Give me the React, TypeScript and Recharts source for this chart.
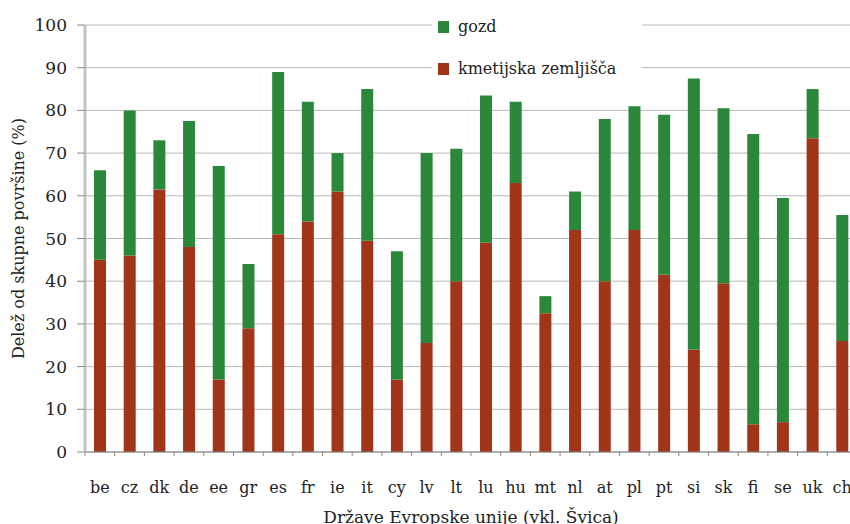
import { Bar, BarChart, CartesianGrid, Legend, XAxis, YAxis } from "recharts"

const countries = ["be", "cz", "dk", "de", "ee", "gr", "es", "fr", "ie", "it", "cy", "lv", "lt", "lu", "hu", "mt", "nl", "at", "pl", "pt", "si", "sk", "fi", "se", "uk", "ch"]
// share of total area (%)
const farmland = [45, 46, 61.5, 48, 17, 29, 51, 54, 61, 49.5, 17, 25.5, 40, 49, 63, 32.5, 52, 40, 52, 41.5, 24, 39.5, 6.5, 7, 73.5, 26]
const landTotal = [66, 80, 73, 77.5, 67, 44, 89, 82, 70, 85, 47, 70, 71, 83.5, 82, 36.5, 61, 78, 81, 79, 87.5, 80.5, 74.5, 59.5, 85, 55.5]
const yTicks = [0, 10, 20, 30, 40, 50, 60, 70, 80, 90, 100]

const data = countries.map((name, i) => ({
  name,
  kmetijska: farmland[i],
  gozd: +(landTotal[i] - farmland[i]).toFixed(1),
}))

const GREEN = "#2b883a"
const RED = "#a03519"
const FONT = "DejaVu Serif"
const INK = "#222"

const W = 860
const H = 524
const LEFT = 85
const RIGHT = 3
const BAND = (W - LEFT - RIGHT) / countries.length

function CountryTick({ x, y, payload }: any) {
  const edge = x - BAND / 2
  return (
    <g>
      <line x1={edge} x2={edge} y1={y} y2={y + 4} stroke="#888" />
      <text x={x} y={y + 41} textAnchor="middle" fontFamily={FONT} fontSize={16} fill={INK}>
        {payload.value}
      </text>
    </g>
  )
}

function LegendBox() {
  const rows = [
    { label: "gozd", color: GREEN },
    { label: "kmetijska zemljišča", color: RED },
  ]
  return (
    <div style={{ position: "relative", background: "#fff", height: 80, fontFamily: FONT, fontSize: 16, color: INK }}>
      {rows.map((r, i) => (
        <div key={r.label} style={{ position: "absolute", left: 6, top: 17 + i * 42, display: "flex", alignItems: "center" }}>
          <span style={{ width: 11, height: 12, background: r.color, marginRight: 9 }} />
          <span style={{ lineHeight: "20px" }}>{r.label}</span>
        </div>
      ))}
    </div>
  )
}

export default function App() {
  return (
    <div style={{ position: "absolute", left: 0, top: 0, width: 850, height: 524, overflow: "hidden", background: "#fff" }}>
      <BarChart width={W} height={H} data={data} margin={{ top: 25, right: RIGHT, left: 0, bottom: 0 }} barSize={12}>
        <CartesianGrid vertical={false} stroke="#b8b8b8" />
        <XAxis
          dataKey="name"
          height={72}
          stroke="#808080"
          tickLine={false}
          tickSize={0}
          tickMargin={0}
          interval={0}
          tick={<CountryTick />}
          label={{ value: "Države Evropske unije (vkl. Švica)", position: "insideBottom", offset: 1, style: { fontFamily: FONT, fontSize: 17, fill: INK } }}
        />
        <YAxis
          width={LEFT}
          domain={[0, 100]}
          ticks={yTicks}
          interval={0}
          axisLine={{ stroke: "#c4c4c4", strokeWidth: 3 }}
          tickLine={{ stroke: "#888" }}
          tickSize={8}
          tickMargin={10}
          tick={{ fontFamily: FONT, fontSize: 17, fill: INK }}
          label={{
            value: "Delež od skupne površine (%)",
            angle: -90,
            position: "insideLeft",
            offset: 18,
            style: { textAnchor: "middle", fontFamily: FONT, fontSize: 16, fill: INK },
          }}
        />
        <Legend
          layout="horizontal"
          verticalAlign="middle"
          align="center"
          content={<LegendBox />}
          wrapperStyle={{ position: "absolute", left: 432, top: 0, width: 210, height: 80 }}
        />
        <Bar dataKey="kmetijska" stackId="a" fill={RED} isAnimationActive={false} />
        <Bar dataKey="gozd" stackId="a" fill={GREEN} isAnimationActive={false} />
      </BarChart>
    </div>
  )
}
